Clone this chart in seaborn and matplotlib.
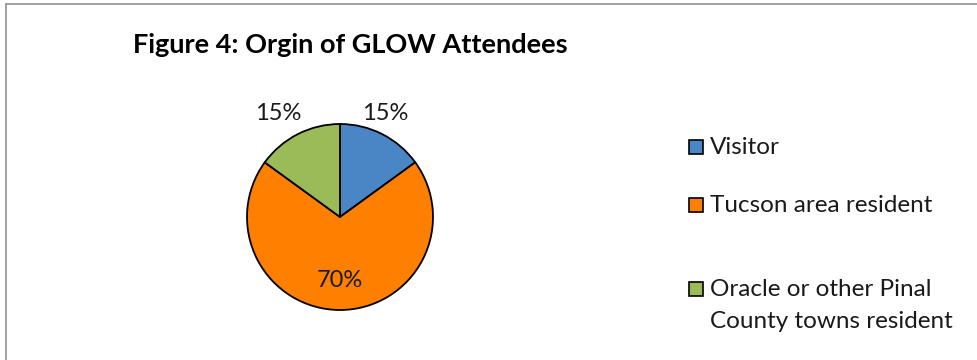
import numpy as np
import matplotlib
matplotlib.use("Agg")
import matplotlib.pyplot as plt
import seaborn as sns
from matplotlib.patches import Rectangle
from matplotlib.lines import Line2D

# Survey shares of attendee origin
categories = ["Visitor", "Tucson area resident", "Oracle or other Pinal\nCounty towns resident"]
shares = [15, 70, 15]
title = "Figure 4: Orgin of GLOW Attendees"

sns.set_theme(style="white")
plt.rcParams["font.family"] = ["Lato", "DejaVu Sans"]

colors = ["#4A86C6", "#FF8000", "#9BBB59"]

W, H = 977, 360
fig = plt.figure(figsize=(W / 100, H / 100), dpi=100)
fig.patch.set_facecolor("white")

# Pie axes: centre (340, 217) px, radius 93 px
cx, cy, r = 340, 217, 93
ax = fig.add_axes([(cx - r) / W, (H - cy - r) / H, 2 * r / W, 2 * r / H])
wedges, _ = ax.pie(shares, colors=colors, startangle=90, counterclock=False,
                   wedgeprops=dict(edgecolor="black", linewidth=1.3))
ax.set_xlim(-1, 1)
ax.set_ylim(-1, 1)
ax.set_aspect("equal")
ax.axis("off")

# Percentage labels: small slices outside, the large one inside
for w, v in zip(wedges, shares):
    mid = np.deg2rad((w.theta1 + w.theta2) / 2)
    dist = 0.66 if v > 50 else 1.25
    x = dist * np.cos(mid)
    if v <= 50:
        x *= 1.17 if x < 0 else 0.85
    ax.text(x, dist * np.sin(mid) + (0.0 if v <= 50 else -0.02), f"{v}%",
            ha="center", va="center", fontsize=17, color="#1a1a1a",
            clip_on=False)

# Title
fig.text(133 / W, 1 - 45 / H, title, ha="left", va="center",
         fontsize=19.5, fontweight="bold", color="black")

# Legend entries (wrapped labels are set line by line, 32 px apart)
leg_y = [147, 205, 289]
line_gap = 32
sq = 14
for c, lab, y in zip(colors, categories, leg_y):
    fig.patches.append(Rectangle((689 / W, 1 - (y + sq / 2) / H), sq / W, sq / H,
                                 facecolor=c, edgecolor="black", linewidth=1.2,
                                 transform=fig.transFigure))
    for i, line in enumerate(lab.split("\n")):
        fig.text(710 / W, 1 - (y + i * line_gap) / H, line, ha="left",
                 va="center", fontsize=17.5, color="#1a1a1a")

# Frame lines (top and left)
fig.add_artist(Line2D([6 / W, 1], [1 - 4 / H, 1 - 4 / H], color="#999999",
                      linewidth=1.3, transform=fig.transFigure))
fig.add_artist(Line2D([6 / W, 6 / W], [0, 1 - 4 / H], color="#999999",
                      linewidth=1.3, transform=fig.transFigure))

fig.savefig("out.png", dpi=100, facecolor="white")
